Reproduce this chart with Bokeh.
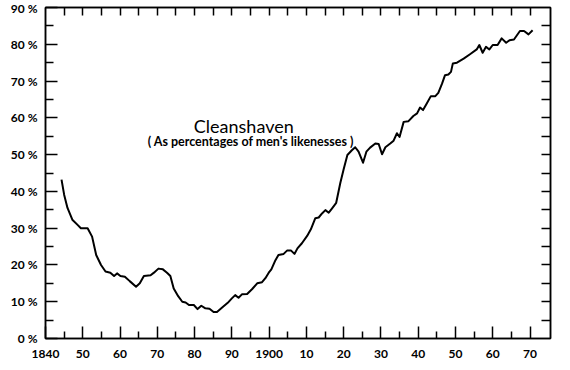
from bokeh.plotting import figure
from bokeh.models import FixedTicker, LinearAxis, Range1d, Label
from bokeh.embed import file_html
from bokeh.resources import INLINE

# ---- data ----
years = [1844.3, 1845.0, 1845.9, 1847.2, 1848.6, 1849.5, 1851.3, 1852.5, 1853.6, 1854.9,
         1856.1, 1857.4, 1858.4, 1859.2, 1860.1, 1861.3, 1862.6, 1864.3, 1865.3, 1866.4,
         1868.2, 1869.1, 1870.3, 1871.5, 1872.6, 1873.5, 1874.4, 1875.6, 1876.7, 1877.6,
         1878.5, 1879.8, 1880.8, 1881.8, 1882.9, 1884.0, 1885.1, 1886.0, 1887.4, 1888.9,
         1890.0, 1890.9, 1891.8, 1892.7, 1894.1, 1895.4, 1896.8, 1898.1, 1899.0, 1899.9,
         1900.6, 1901.7, 1902.5, 1903.9, 1904.8, 1905.9, 1906.8, 1907.6, 1908.8, 1910.2,
         1911.2, 1912.4, 1913.3, 1914.2, 1915.1, 1916.0, 1916.9, 1918.0, 1919.1, 1920.0,
         1921.0, 1922.2, 1923.1, 1924.0, 1925.2, 1926.1, 1927.1, 1928.5, 1929.4, 1930.3,
         1931.2, 1932.5, 1933.4, 1934.3, 1935.0, 1936.1, 1937.4, 1938.7, 1939.7, 1940.5,
         1941.3, 1942.3, 1943.4, 1944.6, 1945.4, 1946.4, 1947.2, 1948.1, 1948.8, 1949.3,
         1950.4, 1952.2, 1953.9, 1955.7, 1956.4, 1957.3, 1958.2, 1959.1, 1960.0, 1961.3,
         1962.4, 1963.6, 1964.5, 1965.7, 1967.3, 1968.4, 1969.6, 1970.7]
cleanshaven_pct = [43.2, 39.1, 35.5, 32.3, 30.9, 30.0, 30.0, 27.7, 22.7, 20.0,
                   18.2, 17.9, 17.0, 17.7, 17.0, 16.8, 15.6, 14.1, 15.0, 17.0,
                   17.2, 17.9, 19.0, 18.8, 17.9, 17.0, 13.6, 11.5, 10.0, 9.8,
                   9.1, 9.1, 8.0, 8.9, 8.2, 8.1, 7.2, 7.2, 8.4, 9.7,
                   10.9, 11.8, 11.1, 12.0, 12.1, 13.4, 15.0, 15.3, 16.4, 17.9,
                   18.8, 21.3, 22.7, 23.0, 23.9, 23.9, 23.0, 24.5, 25.9, 27.9,
                   29.7, 32.7, 32.9, 34.0, 34.9, 34.2, 35.4, 36.9, 42.3, 46.0,
                   49.9, 51.2, 52.0, 50.8, 47.8, 50.8, 51.9, 53.0, 52.9, 50.1,
                   52.0, 53.0, 53.8, 55.8, 54.8, 58.9, 59.1, 60.5, 61.2, 62.8,
                   62.1, 63.9, 65.9, 65.9, 66.8, 69.3, 71.6, 71.8, 72.5, 74.8,
                   75.0, 76.1, 77.3, 78.6, 79.8, 77.7, 79.3, 78.6, 79.8, 79.8,
                   81.6, 80.4, 81.1, 81.3, 83.6, 83.6, 82.7, 83.8]

x_major = list(range(1840, 1971, 10))
x_labels = ["1840", "50", "60", "70", "80", "90", "1900", "10", "20", "30", "40", "50", "60", "70"]
x_minor = list(range(1845, 1971, 10))
y_major = list(range(0, 91, 10))
y_labels = [f"{v} %" for v in y_major]
y_minor = list(range(5, 90, 10))
top_ticks = list(range(1845, 1971, 5))
right_ticks = list(range(5, 90, 5))

title_text = "Cleanshaven"
subtitle_text = "( As percentages of men's likenesses )"

FONT = "Lato"

p = figure(width=570, height=370,
           x_range=Range1d(1840, 1975.5), y_range=Range1d(0, 90),
           x_axis_location=None, y_axis_location=None,
           output_backend="svg", toolbar_location=None,
           min_border_left=45, min_border_right=20, min_border_top=7, min_border_bottom=32)
p.grid.visible = False
p.outline_line_color = "black"
p.outline_line_width = 1.5
p.background_fill_color = "white"
p.border_fill_color = "white"

common = dict(axis_line_color="black", axis_line_width=1.5,
              major_tick_line_color="black", major_tick_line_width=1.5,
              minor_tick_line_color="black", minor_tick_line_width=1.5,
              major_tick_out=0, minor_tick_out=0)

left = LinearAxis(ticker=FixedTicker(ticks=y_major, minor_ticks=y_minor),
                  major_label_overrides={v: l for v, l in zip(y_major, y_labels)},
                  major_tick_in=12, minor_tick_in=8, major_label_standoff=8,
                  major_label_text_font=FONT, major_label_text_font_size="12px",
                  major_label_text_font_style="bold", major_label_text_color="black",
                  **common)
p.add_layout(left, "left")

bottom = LinearAxis(ticker=FixedTicker(ticks=x_major, minor_ticks=x_minor),
                    major_label_overrides={v: l for v, l in zip(x_major, x_labels)},
                    major_tick_in=12, minor_tick_in=7, major_label_standoff=11,
                    major_label_text_font=FONT, major_label_text_font_size="12px",
                    major_label_text_font_style="bold", major_label_text_color="black",
                    **common)
p.add_layout(bottom, "below")

top = LinearAxis(ticker=FixedTicker(ticks=top_ticks, minor_ticks=[]),
                 major_tick_in=8, major_label_standoff=0,
                 major_label_text_color=None, **common)
p.add_layout(top, "above")

right = LinearAxis(ticker=FixedTicker(ticks=right_ticks, minor_ticks=[]),
                   major_tick_in=9, major_label_standoff=0,
                   major_label_text_color=None, **common)
p.add_layout(right, "right")

p.line(years, cleanshaven_pct, line_color="black", line_width=2, line_join="round")

p.add_layout(Label(x=1893.2, y=57.7, text=title_text, text_align="center",
                   text_baseline="alphabetic", text_font=FONT, text_font_size="18px",
                   text_color="black"))
p.add_layout(Label(x=1895.1, y=53.6, text=subtitle_text, text_align="center",
                   text_baseline="alphabetic", text_font=FONT, text_font_size="12.5px",
                   text_font_style="bold", text_color="black"))

open("out.html", "w").write(file_html(p, INLINE))
